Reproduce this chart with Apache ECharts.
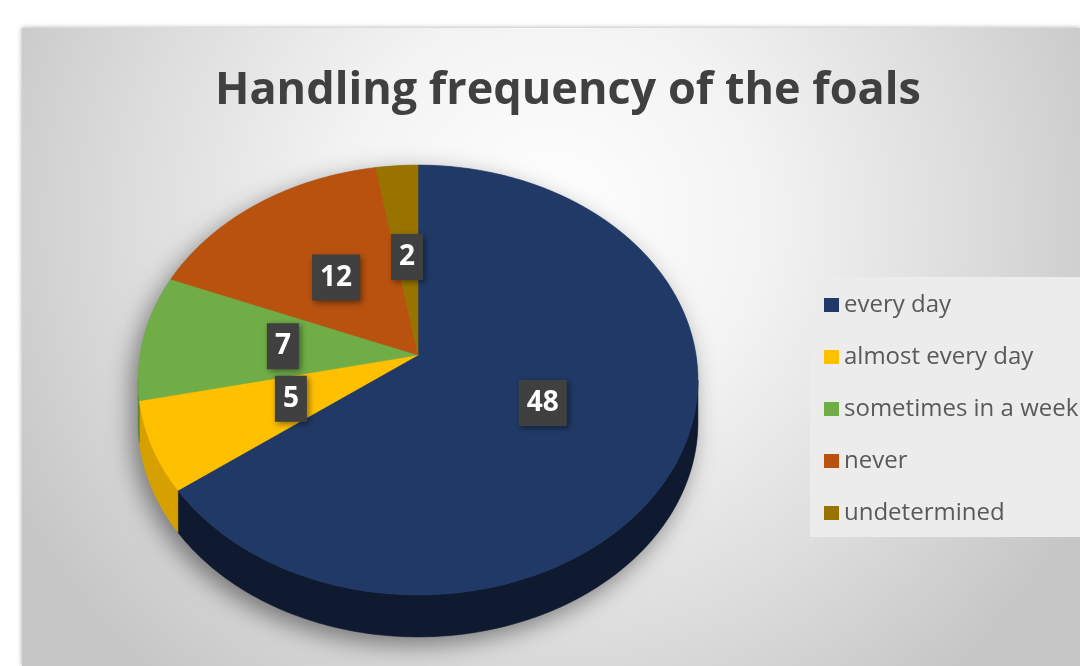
<!DOCTYPE html>
<html><head><meta charset="utf-8">
<script src="https://cdn.jsdelivr.net/npm/echarts@6/dist/echarts.min.js"></script>
<style>html,body{margin:0;padding:0;background:#fff;}#main{width:1080px;height:666px;}</style>
</head><body><div id="main"></div>
<script>
// ---- data ----
const titleText = 'Handling frequency of the foals';
const categories = ['every day', 'almost every day', 'sometimes in a week', 'never', 'undetermined'];
const values = [48, 5, 7, 12, 2];
const colors = ['#213966', '#ffc000', '#70ad47', '#b9520f', '#997300'];
const sideColors = ['#0f1930', '#d6a000', '#578a35', '#8a3e0a', '#735600'];

// ---- geometry (style) ----
const AX = 418, AY = 355, RX = 278, RY = 212, PERSP = 0.1163, DEPTH = 42, LABEL_R = 0.49;
const total = values.reduce((a, b) => a + b, 0);
const starts = []; let acc = 0;
values.forEach(v => { starts.push(acc / total * 2 * Math.PI); acc += v; });
function proj(theta, r) {
  r = (r == null) ? 1 : r;
  const s = Math.sin(theta), c = Math.cos(theta);
  const den = 1 + PERSP * r * c;
  return [AX + RX * r * s / den, AY - RY * r * c / den];
}
const F1 = Math.acos(-PERSP), F2 = 2 * Math.PI - F1;
function arc(a, b, dy) {
  const n = Math.max(2, Math.ceil((b - a) / (Math.PI / 180)));
  const pts = [];
  for (let i = 0; i <= n; i++) { const p = proj(a + (b - a) * i / n); pts.push([p[0], p[1] + (dy || 0)]); }
  return pts;
}
function renderSlice(idx) {
  return function (params, api) {
    const v = api.value(0);
    const a = starts[idx], b = a + v / total * 2 * Math.PI;
    const children = [];
    if (idx === 0) {
      const back = arc(F2 - 2 * Math.PI, F1, 0);
      const front = arc(F1, F2, DEPTH);
      children.push({ type: 'polygon', z2: -10, shape: { points: back.concat(front) },
        style: { fill: '#8a8a8a', shadowBlur: 24, shadowColor: 'rgba(0,0,0,0.45)', shadowOffsetX: -6, shadowOffsetY: 8 } });
    }
    const s0 = Math.max(a, F1), s1 = Math.min(b, F2);
    if (s1 > s0) {
      const top = arc(s0, s1, 0), bot = arc(s0, s1, DEPTH).reverse();
      children.push({ type: 'polygon', z2: 0, shape: { points: top.concat(bot) },
        style: { fill: sideColors[idx], stroke: sideColors[idx], lineWidth: 0.6 } });
    }
    children.push({ type: 'polygon', z2: 5, shape: { points: [[AX, AY]].concat(arc(a, b, 0)) },
      style: { fill: colors[idx], stroke: colors[idx], lineWidth: 0.6 } });
    const m = (a + b) / 2, lp = proj(m, LABEL_R);
    children.push({ type: 'text', z2: 50, x: lp[0], y: lp[1],
      style: { text: String(v), fill: '#ffffff', fontSize: 28, fontWeight: 'bold', fontFamily: '"Open Sans", sans-serif',
        align: 'center', verticalAlign: 'middle', lineHeight: 30, backgroundColor: '#404040', padding: [8, 8],
        shadowBlur: 6, shadowColor: 'rgba(0,0,0,0.45)', shadowOffsetX: 2, shadowOffsetY: 2 } });
    return { type: 'group', children };
  };
}

const chart = echarts.init(document.getElementById('main'), null, { renderer: 'canvas' });
chart.setOption({
  animation: false,
  graphic: [{
    type: 'rect', silent: true, z: -10,
    shape: { x: 22, y: 28, width: 1058, height: 638 },
    style: {
      fill: { type: 'radial', x: 0.5, y: 0.3, r: 0.95,
        colorStops: [{ offset: 0, color: '#ffffff' }, { offset: 0.35, color: '#f3f3f3' }, { offset: 0.7, color: '#dcdcdc' }, { offset: 1, color: '#c6c6c6' }] },
      shadowBlur: 5, shadowColor: 'rgba(0,0,0,0.35)'
    }
  }],
  title: {
    text: titleText, left: 215, top: 69, padding: 0,
    textStyle: { fontSize: 45, fontWeight: 'bold', color: '#404040', fontFamily: '"Open Sans", sans-serif' }
  },
  legend: {
    data: categories, orient: 'vertical', left: 810, top: 277, icon: 'rect',
    itemWidth: 15, itemHeight: 14, itemGap: 28, padding: [16, 40, 12, 14],
    backgroundColor: '#ececec', selectedMode: false,
    textStyle: { fontSize: 24, color: '#595959', fontFamily: '"Open Sans", sans-serif' }
  },
  series: categories.map((name, i) => ({
    type: 'custom', name: name, coordinateSystem: 'none', silent: true,
    color: colors[i], itemStyle: { color: colors[i] },
    data: [[values[i]]], renderItem: renderSlice(i)
  }))
});
</script></body></html>
